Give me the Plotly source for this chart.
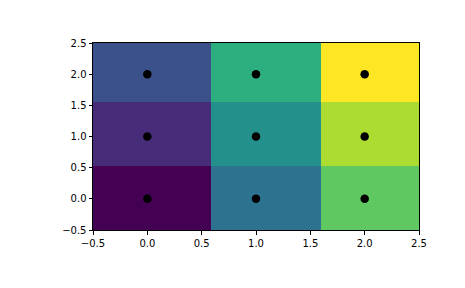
import plotly.graph_objects as go

x_edges = [-0.5, 0.59, 1.6, 2.5]
y_edges = [-0.5, 0.52, 1.56, 2.5]
z = [[0, 3, 6],
     [1, 4, 7],
     [2, 5, 8]]
px = [0, 1, 2, 0, 1, 2, 0, 1, 2]
py = [0, 0, 0, 1, 1, 1, 2, 2, 2]
ticks = [-0.5, 0.0, 0.5, 1.0, 1.5, 2.0, 2.5]
tick_text = ["\u22120.5", "0.0", "0.5", "1.0", "1.5", "2.0", "2.5"]

fig = go.Figure()
fig.add_trace(go.Heatmap(x=x_edges, y=y_edges, z=z, colorscale="Viridis",
                         zmin=0, zmax=8, showscale=False))
fig.add_trace(go.Scatter(x=px, y=py, mode="markers",
                         marker=dict(color="black", size=8.5), showlegend=False))

axis_common = dict(showgrid=False, zeroline=False, showline=True, linecolor="black",
                   linewidth=1, mirror=True, ticks="outside", ticklen=3.5, tickwidth=0.8,
                   tickcolor="black", tickvals=ticks, ticktext=tick_text,
                   tickfont=dict(family="DejaVu Sans", size=10, color="black"))
fig.update_xaxes(range=[-0.5, 2.5], **axis_common)
fig.update_yaxes(range=[-0.5, 2.5], **axis_common)
fig.update_layout(width=465, height=288, margin=dict(l=93, r=46, t=43, b=58),
                  plot_bgcolor="white", paper_bgcolor="white")
fig.write_html("out.html")
